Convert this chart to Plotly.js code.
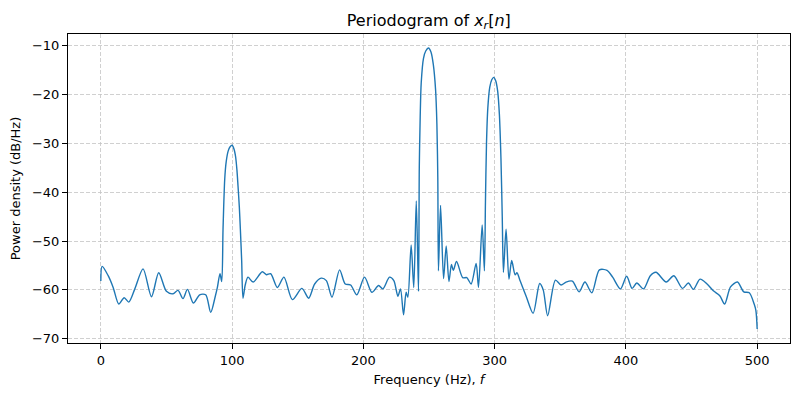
<!DOCTYPE html>
<html>
<head>
<meta charset="utf-8">
<script src="https://cdn.plot.ly/plotly-3.0.1.min.js"></script>
<style>
  html, body { margin: 0; padding: 0; background: #fff; }
  #plot { width: 800px; height: 400px; }
</style>
</head>
<body>
<div id="plot"></div>
<script>
// Frequenzen (Hz)
const freq = [
  0, 1, 5.6, 9.4, 13.7, 17.8, 21.3, 25.9, 32.2, 38.6, 44.1, 50, 55, 58.8, 62.6, 66, 70.5, 75.3, 79.9, 83.7,
  87.3, 88.8, 90.8, 92.1, 93.1, 94.4, 95.5, 97, 98.5, 100, 101.5, 102.7, 103.7, 104.5, 105.5, 106.3, 107.3, 108.3,
  110, 112.1, 116, 123, 126.1, 129.4, 134.5, 139.5, 145.9, 153.2, 158.3, 162.9, 167.9, 171.8, 176.1, 181.9,
  186.2, 190.3, 195, 200.9, 206.5, 211.6, 214.9, 219.9, 223.2, 226.3, 228.3, 230.6, 232.6, 233.9, 236.4,
  238.4, 240.3, 242, 242.6, 243.3, 244.1, 245.8, 247.5, 249.6, 251.5, 253.3, 255, 256, 256.7, 257.2,
  258.8, 261.1, 263.1, 265.2, 267.1, 268.5, 271, 275.7, 278.8, 282.1, 285.9, 287.7, 290.5, 292.2,
  293, 293.8, 294.8, 296.3, 297.8, 299.3, 300.8, 302.3, 303.6, 304.8, 305.8, 306.7,
  308.7, 310.9, 313, 315.6, 317, 319.5, 324, 329.3, 334.3, 337, 340.4, 346.3, 350.6, 354.4, 359.2,
  364.3, 368.8, 374, 379.8, 385.6, 389.9, 395.8, 400.6, 404.7, 408.3, 413.4, 418.6, 422.9, 430.7,
  436.5, 443.1, 447.6, 451.4, 456.5, 461.8, 466.6, 471.5, 475.2, 479.7, 485, 489.8, 494, 497.7, 499, 500
];

// Leistungsdichte (dB/Hz)
const psd = [
  -58.2, -55.2, -57.1, -59.5, -62.9, -61.6, -62.5, -59.8, -55.7, -61.4, -56.5, -60.3, -60.8, -60.1, -61.8, -59.9, -62.7, -61.0, -61.0, -64.6,
  -61.2, -59.5, -56.7, -58.3, -47.6, -37.3, -33.8, -31.6, -30.7, -30.4, -31.2, -32.8, -35.5, -38.7, -43, -47.6, -54, -61.7,
  -59, -57.4, -58.4, -56.3, -56.9, -56.7, -59.5, -57.4, -62.0, -59.7, -61.7, -58.8, -57.6, -58.1, -61.5, -55.9,
  -58.8, -59.0, -61.0, -57.4, -60.5, -59.1, -59.8, -57.4, -58.1, -61.3, -59.8, -65.1, -60.5, -61.5, -50.8,
  -59.5, -41.8, -60.3, -35, -24.5, -17.5, -12.6, -11.1, -10.5, -11.3, -13.9, -19, -26, -37, -56.1,
  -42.7, -57.7, -51, -58.3, -54.8, -56, -54.2, -57.5, -57.5, -58.8, -54.6, -59.5, -46.7, -56.1,
  -42, -30, -22.8, -18.5, -17, -16.5, -17.2, -19.3, -24, -33, -45, -56.4,
  -47.6, -57.8, -54, -56.9, -56.5, -58.2, -61.3, -64.8, -58.7, -60, -65.3, -58, -59, -58.4, -58.2,
  -60.4, -58.4, -60.6, -55.9, -56, -57.4, -59.8, -57.2, -59.7, -58.6, -59.8, -57.1, -56.4, -58.4,
  -57.1, -59.7, -58.6, -59.9, -57.8, -58.8, -60.2, -61.2, -62.9, -59.4, -58.4, -60.4, -60.6, -62.9, -64.2, -68
];

const xTicks = [0, 100, 200, 300, 400, 500];
const yTicks = [-70, -60, -50, -40, -30, -20, -10];

const font = "DejaVu Sans, sans-serif";

const traces = [{
  x: freq,
  y: psd,
  mode: "lines",
  line: { color: "#1f77b4", width: 1.4, shape: "spline", smoothing: 0.8 },
  hoverinfo: "x+y"
}];

const axisBase = {
  showline: true,
  linecolor: "black",
  linewidth: 1,
  mirror: true,
  ticks: "outside",
  ticklen: 5,
  tickwidth: 1,
  tickcolor: "black",
  tickfont: { family: font, size: 13, color: "black" },
  showgrid: true,
  gridcolor: "#c4c4c4",
  griddash: "4px,2px",
  gridwidth: 0.8,
  zeroline: false
};

Plotly.newPlot("plot", traces, {
  width: 800,
  height: 400,
  showlegend: false,
  paper_bgcolor: "white",
  plot_bgcolor: "white",
  margin: { l: 68, r: 10, t: 34, b: 57 },
  title: {
    text: "Periodogram of <i>x</i><sub><i>r</i></sub>[<i>n</i>]",
    font: { family: font, size: 16, color: "black" },
    x: 0.536, xanchor: "center",
    y: 0.95, yanchor: "middle"
  },
  xaxis: Object.assign({}, axisBase, {
    range: [-25, 525],
    tickvals: xTicks,
    title: { text: "Frequency (Hz), <i>f</i>", font: { family: font, size: 13, color: "black" }, standoff: 8 }
  }),
  yaxis: Object.assign({}, axisBase, {
    range: [-70.875, -7.625],
    tickvals: yTicks,
    title: { text: "Power density (dB/Hz)", font: { family: font, size: 13, color: "black" }, standoff: 8 }
  })
}, { displayModeBar: false, staticPlot: true });
</script>
</body>
</html>
